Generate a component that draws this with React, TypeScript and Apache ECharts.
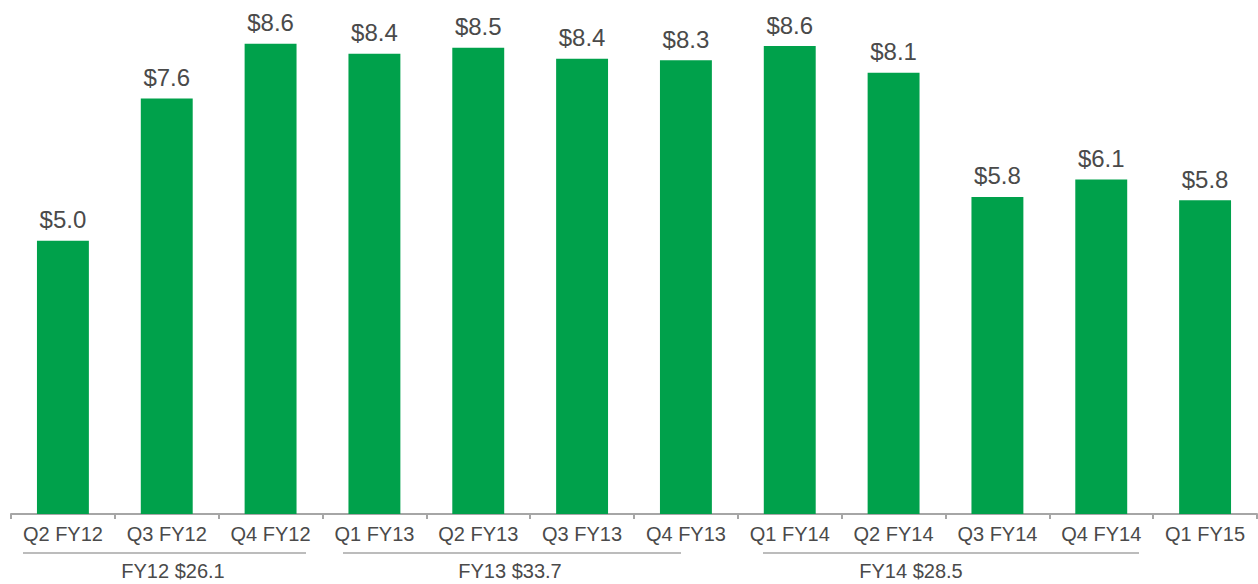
import React, { useEffect, useRef } from "react";
import * as echarts from "echarts";

const categories = [
  "Q2 FY12", "Q3 FY12", "Q4 FY12",
  "Q1 FY13", "Q2 FY13", "Q3 FY13", "Q4 FY13",
  "Q1 FY14", "Q2 FY14", "Q3 FY14", "Q4 FY14",
  "Q1 FY15",
];
// bar heights
const values = [5.0, 7.6, 8.6, 8.42, 8.53, 8.33, 8.3, 8.56, 8.07, 5.8, 6.12, 5.74];
// value labels as printed
const valueLabels = ["$5.0", "$7.6", "$8.6", "$8.4", "$8.5", "$8.4", "$8.3", "$8.6", "$8.1", "$5.8", "$6.1", "$5.8"];
const groupLabels = ["FY12 $26.1", "FY13 $33.7", "FY14 $28.5"];

const FONT = "'Liberation Sans', Arial, sans-serif";
const GREEN = "#00A14B";
const TEXT = "#4a4a4a";
const LINE = "#a6a6a6";

export default function App() {
  const ref = useRef<HTMLDivElement>(null);
  useEffect(() => {
    if (!ref.current) return;
    const chart = echarts.init(ref.current, undefined, { renderer: "svg" });
    const groupLines = [
      { x1: 23, x2: 306, cx: 173 },
      { x1: 343, x2: 681, cx: 510 },
      { x1: 763, x2: 1139, cx: 911 },
    ];
    const graphic: any[] = [];
    groupLines.forEach((g, i) => {
      graphic.push({
        type: "line",
        shape: { x1: g.x1, y1: 553, x2: g.x2, y2: 553 },
        style: { stroke: LINE, lineWidth: 1.5 },
        silent: true,
      });
      graphic.push({
        type: "text",
        x: g.cx,
        y: 571,
        style: {
          text: groupLabels[i],
          fill: TEXT,
          font: `20px ${FONT}`,
          textAlign: "center",
          textVerticalAlign: "middle",
        },
        silent: true,
      });
    });
    chart.setOption({
      animation: false,
      backgroundColor: "#ffffff",
      grid: { left: 11, right: 1, top: 22, bottom: 70, containLabel: false },
      xAxis: {
        type: "category",
        data: categories,
        axisLine: { show: true, lineStyle: { color: LINE, width: 2 } },
        axisTick: { show: true, length: 5, lineStyle: { color: LINE, width: 2 } },
        axisLabel: {
          color: TEXT,
          fontSize: 20,
          fontFamily: FONT,
          margin: 10,
          interval: 0,
        },
      },
      yAxis: {
        type: "value",
        min: 0,
        max: 9,
        show: false,
        splitLine: { show: false },
      },
      series: [
        {
          type: "bar",
          data: values,
          barWidth: "50%",
          itemStyle: { color: GREEN },
          label: {
            show: true,
            position: "top",
            distance: 9,
            color: TEXT,
            fontSize: 24,
            fontFamily: FONT,
            formatter: (p: any) => valueLabels[p.dataIndex],
          },
        },
      ],
      graphic,
    });
    return () => chart.dispose();
  }, []);
  return (
    <div
      ref={ref}
      style={{ position: "absolute", left: 0, top: 0, width: 1258, height: 584 }}
    />
  );
}
